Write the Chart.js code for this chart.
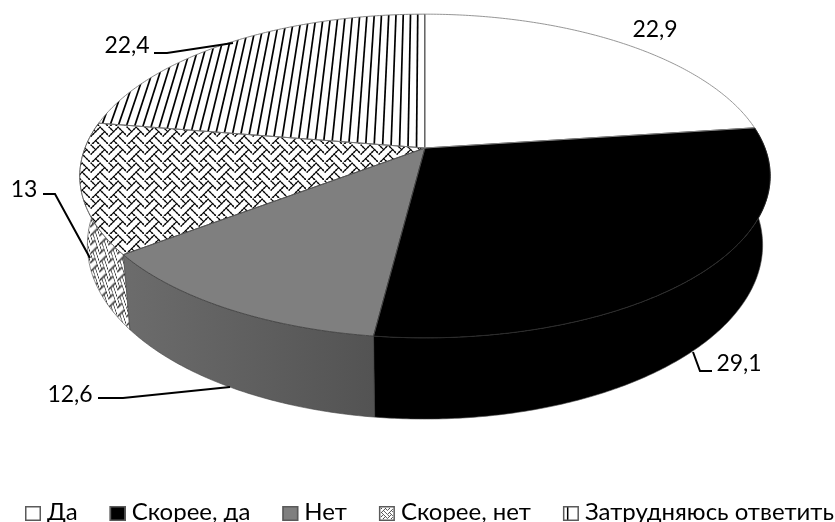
<!DOCTYPE html>
<html>
<head>
<meta charset="utf-8">
<title>3D pie</title>
<script src="https://cdn.jsdelivr.net/npm/chart.js@4"></script>
<style>
  html, body { margin: 0; padding: 0; background: #fff; overflow: hidden; }
  #box { width: 835px; height: 522px; position: relative; }
</style>
</head>
<body>
<div id="box"><canvas id="pie"></canvas></div>
<script>
const categories = ['Да', 'Скорее, да', 'Нет', 'Скорее, нет', 'Затрудняюсь ответить'];
const values = [22.9, 29.1, 12.6, 13, 22.4];
const valueLabels = ['22,9', '29,1', '12,6', '13', '22,4'];

const labelFont = '23px Lato, "Open Sans", sans-serif';

// perspective of the disc: unit circle -> screen
const view = { x0: 425, y0: 148, a: 157, b: 340, k: 0.173 };

// where each value label sits and the leader line going to it
const labelAt = [[655, 30], [739, 364], [70, 395], [24, 190], [127, 46]];
const leaders = [
  null,
  [[693, 352], [700, 371], [712, 371]],
  [[98, 398], [123, 398], [230, 387]],
  [[43, 194], [55, 194], [90, 258]],
  [[154, 53], [167, 53], [233, 43]]
];

function project(u, v) {
  const w = 1 - view.k * v;
  return [view.x0 + view.b * u / w, view.y0 + view.a * v / w];
}
function rimPoint(theta) {
  return project(Math.sin(theta), -Math.cos(theta));
}
// same rim on the underside of the disc
function lowerPoint(theta) {
  const p = rimPoint(theta);
  return [view.x0 + (p[0] - view.x0) * 0.978, p[1] + 75 + (p[1] - 255) * 0.075];
}

function weaveTile(scale) {
  const rows = [0x88, 0x54, 0x22, 0x45, 0x88, 0x14, 0x22, 0x51];
  const on = (x, y) => rows[(y + 8) % 8] & (0x80 >> ((x + 8) % 8));
  const c = document.createElement('canvas');
  c.width = c.height = Math.round(8 * scale);
  const g = c.getContext('2d');
  g.fillStyle = '#fff';
  g.fillRect(0, 0, c.width, c.height);
  g.fillStyle = '#000';
  g.strokeStyle = '#000';
  const s = c.width / 8;
  const dot = s * 0.62;
  g.lineWidth = s * 0.5;
  for (let y = 0; y < 8; y++) {
    for (let x = 0; x < 8; x++) {
      if (!on(x, y)) continue;
      g.fillRect((x + 0.5) * s - dot / 2, (y + 0.5) * s - dot / 2, dot, dot);
      // join diagonal neighbours so the weave reads as lines
      [[1, 1], [-1, 1]].forEach(d => {
        if (!on(x + d[0], y + d[1])) return;
        g.beginPath();
        g.moveTo((x + 0.5) * s, (y + 0.5) * s);
        g.lineTo((x + d[0] + 0.5) * s, (y + d[1] + 0.5) * s);
        g.stroke();
      });
    }
  }
  return c;
}

function legendIcon(ctx, kind, x, y) {
  ctx.save();
  ctx.fillStyle = kind === 1 ? '#000' : kind === 2 ? '#7f7f7f' : '#fff';
  ctx.fillRect(x, y, 16, 15);
  if (kind === 3) {
    const tile = ctx.createPattern(weaveTile(1), 'repeat');
    tile.setTransform(new DOMMatrix([1, 0, 0, 1, x, y]));
    ctx.fillStyle = tile;
    ctx.fillRect(x + 2, y + 2, 12, 11);
  }
  if (kind === 4) {
    ctx.fillStyle = '#000';
    ctx.fillRect(x + 4, y + 1, 1.5, 13);
  }
  ctx.strokeStyle = '#5a5a5a';
  ctx.lineWidth = 1.5;
  ctx.strokeRect(x + 0.75, y + 0.75, 14.5, 13.5);
  ctx.restore();
}

function slicePath(ctx, start, end) {
  ctx.beginPath();
  ctx.moveTo(view.x0, view.y0);
  for (let t = start; t < end; t += 0.01) ctx.lineTo(...rimPoint(t));
  ctx.lineTo(...rimPoint(end));
  ctx.closePath();
}

function wallPath(ctx, start, end) {
  ctx.beginPath();
  ctx.moveTo(...rimPoint(start));
  for (let t = start; t < end; t += 0.01) ctx.lineTo(...rimPoint(t));
  ctx.lineTo(...rimPoint(end));
  for (let t = end; t > start; t -= 0.01) ctx.lineTo(...lowerPoint(t));
  ctx.lineTo(...lowerPoint(start));
  ctx.closePath();
}

function drawStripes(ctx) {
  ctx.strokeStyle = '#000';
  ctx.lineWidth = 1.7;
  for (let u = 0; u > -1.05; u -= 0.025) {
    const p = project(u, -1.1), q = project(u, 0.2);
    ctx.beginPath();
    ctx.moveTo(...p);
    ctx.lineTo(...q);
    ctx.stroke();
  }
}

function drawLegend(ctx) {
  ctx.save();
  ctx.font = '24px Lato, "Open Sans", sans-serif';
  ctx.textAlign = 'left';
  ctx.textBaseline = 'alphabetic';
  let x = 25;
  categories.forEach((text, i) => {
    legendIcon(ctx, i, x, 506);
    ctx.fillStyle = '#000';
    ctx.fillText(text, x + 22, 520);
    x += 22 + ctx.measureText(text).width + 32;
  });
  ctx.restore();
}

const disc3d = {
  id: 'disc3d',
  beforeDatasetsDraw(chart) {
    const ctx = chart.ctx;
    const arcs = chart.getDatasetMeta(0).data;
    const angle = arcs.map(a => [a.startAngle + Math.PI / 2, a.endAngle + Math.PI / 2]);
    const weave = ctx.createPattern(weaveTile(2.25), 'repeat');
    const squeezed = ctx.createPattern(weaveTile(2.25), 'repeat');
    squeezed.setTransform(new DOMMatrix([0.5, 0.5, 0, 1, 0, 0]));

    ctx.save();
    // walls, far side first
    [3, 2, 1].forEach(i => {
      wallPath(ctx, angle[i][0], angle[i][1]);
      if (i === 1) {
        ctx.fillStyle = '#000';
      } else if (i === 2) {
        const g = ctx.createLinearGradient(123, 0, 374, 0);
        g.addColorStop(0, '#6c6c6c');
        g.addColorStop(1, '#535353');
        ctx.fillStyle = g;
      } else {
        ctx.fillStyle = squeezed;
      }
      ctx.fill();
      ctx.strokeStyle = '#444';
      ctx.lineWidth = 0.6;
      ctx.stroke();
    });
    // top face
    const fills = ['#fff', '#000', '#7f7f7f', weave, '#fff'];
    const rims = ['#8a8a8a', '#2a2a2a', '#444', '#555', '#777'];
    arcs.forEach((a, i) => {
      slicePath(ctx, angle[i][0], angle[i][1]);
      ctx.fillStyle = fills[i];
      ctx.fill();
      if (i === 4) {
        ctx.save();
        slicePath(ctx, angle[i][0], angle[i][1]);
        ctx.clip();
        drawStripes(ctx);
        ctx.restore();
      }
    });
    [1, 2, 3, 4, 0].forEach(i => {
      slicePath(ctx, angle[i][0], angle[i][1]);
      ctx.strokeStyle = rims[i];
      ctx.lineWidth = 0.9;
      ctx.stroke();
    });
    // leaders and value labels
    ctx.strokeStyle = '#000';
    ctx.lineWidth = 2;
    leaders.forEach(line => {
      if (!line) return;
      ctx.beginPath();
      line.forEach((p, j) => j ? ctx.lineTo(p[0], p[1]) : ctx.moveTo(p[0], p[1]));
      ctx.stroke();
    });
    ctx.fillStyle = '#000';
    ctx.font = labelFont;
    ctx.textAlign = 'center';
    ctx.textBaseline = 'middle';
    valueLabels.forEach((t, i) => ctx.fillText(t, labelAt[i][0], labelAt[i][1]));
    ctx.restore();
    drawLegend(ctx);
    return false;
  }
};

new Chart(document.getElementById('pie').getContext('2d'), {
  type: 'pie',
  data: {
    labels: categories,
    datasets: [{ data: values }]
  },
  options: {
    responsive: true,
    maintainAspectRatio: false,
    animation: false,
    plugins: {
      tooltip: { enabled: false },
      legend: { display: false }
    }
  },
  plugins: [disc3d]
});
</script>
</body>
</html>
